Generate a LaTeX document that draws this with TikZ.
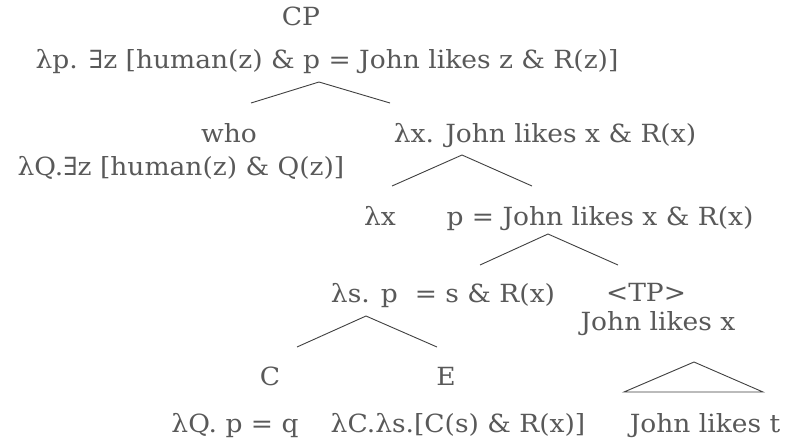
\documentclass[tikz,border=0pt]{standalone}
\usepackage{fontspec}
\setmainfont[FakeStretch=1.06]{DejaVu Serif}
\definecolor{txt}{HTML}{595959}
\definecolor{ln}{HTML}{404040}
\begin{document}
\begin{tikzpicture}[x=1pt,y=-1pt,
  t/.style={text=txt, font=\fontsize{25}{29}\selectfont, inner sep=0pt, anchor=base},
  br/.style={draw=ln, line width=0.9pt}]
\useasboundingbox[fill=white] (0,0) rectangle (792,440);
% texts
\node[t] (cp) at (301,25) {CP};
\node[t] (l2) at (327,68) {λp. ∃z [human(z) \& p = John likes z \& R(z)]};
\node[t] (who) at (229,142) {who};
\node[t] (whoS) at (181,175) {λQ.∃z [human(z) \& Q(z)]};
\node[t] (lx1) at (545,142) {λx. John likes x \& R(x)};
\node[t] (lx) at (380,225) {λx};
\node[t] (pj) at (600,225) {p = John likes x \& R(x)};
\node[t] (ls) at (443,302) {λs. p~ = s \& R(x)};
\node[t] (tp) at (646,301) {<TP>};
\node[t] (jlx) at (658,330) {John likes x};
\node[t] (c) at (270,385) {C};
\node[t] (e) at (446,385) {E};
\node[t] (lq) at (235,432) {λQ. p = q};
\node[t] (lc) at (458,432) {λC.λs.[C(s) \& R(x)]};
\node[t] (jlt) at (705,432) {John likes t};
% branch points
\coordinate (a1) at (319,82);  \coordinate (a1l) at (251,103); \coordinate (a1r) at (390,103);
\coordinate (a2) at (462,155); \coordinate (a2l) at (392,186); \coordinate (a2r) at (532,186);
\coordinate (a3) at (548,234); \coordinate (a3l) at (480,265); \coordinate (a3r) at (618,265);
\coordinate (a4) at (366,316); \coordinate (a4l) at (297,347); \coordinate (a4r) at (437,347);
\coordinate (a5) at (694,362); \coordinate (a5l) at (624,392); \coordinate (a5r) at (763,392);
\draw[br] (a1l) -- (a1) -- (a1r);
\draw[br] (a2l) -- (a2) -- (a2r);
\draw[br] (a3l) -- (a3) -- (a3r);
\draw[br] (a4l) -- (a4) -- (a4r);
\draw[br] (a5l) -- (a5) -- (a5r) -- cycle;
\end{tikzpicture}
\end{document}
